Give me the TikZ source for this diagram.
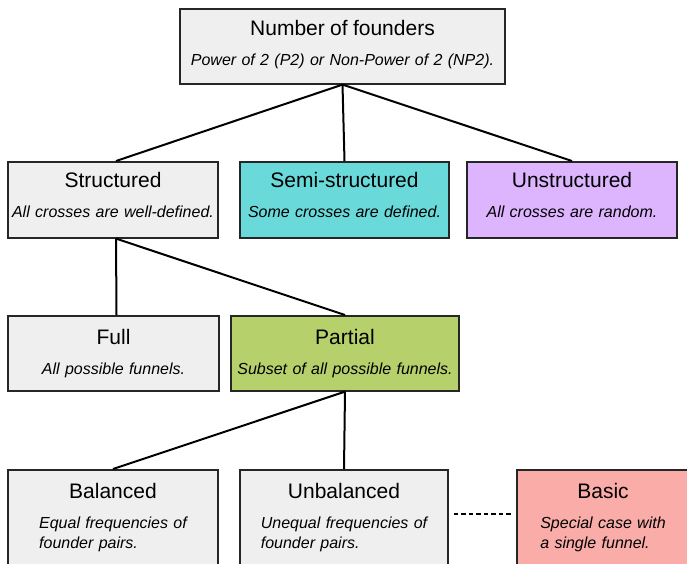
\documentclass[tikz,border=0pt]{standalone}
\usepackage{fontspec}
\setmainfont{Liberation Sans}
\definecolor{boxgray}{HTML}{EFEFEF}
\definecolor{semicyan}{HTML}{6AD9DA}
\definecolor{unstrpurple}{HTML}{DDB4FE}
\definecolor{partgreen}{HTML}{B6D06C}
\definecolor{basicred}{HTML}{F9ACA8}
\newcommand{\boxhead}[1]{{\fontsize{21}{25}\selectfont #1}}

\begin{document}
\begin{tikzpicture}[x=1pt,y=-1pt,
                    line width=2pt,
                    main box/.style={rectangle,draw=black!85,line width=1.6pt,fill=boxgray,
                      anchor=north,inner sep=0pt,align=center,text width=#1,
                      font=\fontsize{16}{20}\selectfont},
                    main box/.default=210pt,
                    row one/.style={text height=27pt,text depth=48pt},
                    row two/.style={text height=26pt,text depth=50pt},
                    row three/.style={text height=29pt,text depth=46pt},
                    row four/.style={text height=29pt,text depth=81pt},
                    dashed link/.style={line width=2.2pt,dash pattern=on 4.5pt off 3pt,
                      shorten <=5pt,shorten >=4pt}]

      \useasboundingbox (0,0) rectangle (687,563);

      % Define boxes
      \node[main box=325pt,row one] (founders) at (342.5,8)
        {\boxhead{Number of founders}\\[10pt]{\itshape Power of 2 (P2) or Non-Power of 2 (NP2).}};

      \node[main box,row two] (structured) at (113,161)
        {\boxhead{Structured}\\[10pt]{\itshape All crosses are well-defined.}};
      \node[main box=209pt,row two,fill=semicyan] (semi) at (344.5,161)
        {\boxhead{Semi-structured}\\[10pt]{\itshape Some crosses are defined.}};
      \node[main box,row two,fill=unstrpurple] (unstructured) at (572,161)
        {\boxhead{Unstructured}\\[10pt]{\itshape All crosses are random.}};

      \node[main box=211pt,row three] (full) at (113.5,315)
        {\boxhead{Full}\\[10pt]{\itshape All possible funnels.}};
      \node[main box=228pt,row three,fill=partgreen] (partial) at (345,315)
        {\boxhead{Partial}\\[10pt]{\itshape Subset of all possible funnels.}};

      \node[main box,row four] (balanced) at (113,469)
        {\boxhead{Balanced}\\[10pt]{\itshape\begin{tabular}[t]{@{}l@{}}Equal frequencies of\\founder pairs.\end{tabular}}};
      \node[main box=208pt,row four] (unbalanced) at (344,469)
        {\boxhead{Unbalanced}\\[10pt]{\itshape\begin{tabular}[t]{@{}l@{}}Unequal frequencies of\\founder pairs.\end{tabular}}};
      \node[main box=172pt,row four,fill=basicred] (basic) at (603,469)
        {\boxhead{Basic}\\[10pt]{\itshape\begin{tabular}[t]{@{}l@{}}Special case with\\a single funnel.\end{tabular}}};

      % Draw links
      \path
        (founders.south) edge ([xshift=3pt]structured.north)
        (founders.south) edge (semi.north)
        (founders.south) edge (unstructured.north)
        ([xshift=3pt]structured.south) edge ([xshift=3pt]full.north)
        ([xshift=3pt]structured.south) edge (partial.north)
        (partial.south) edge (balanced.north)
        (partial.south) edge (unbalanced.north);

      \draw[dashed link] ([yshift=11pt]unbalanced.east) -- ([yshift=11pt]basic.west);

    \end{tikzpicture}
\end{document}
